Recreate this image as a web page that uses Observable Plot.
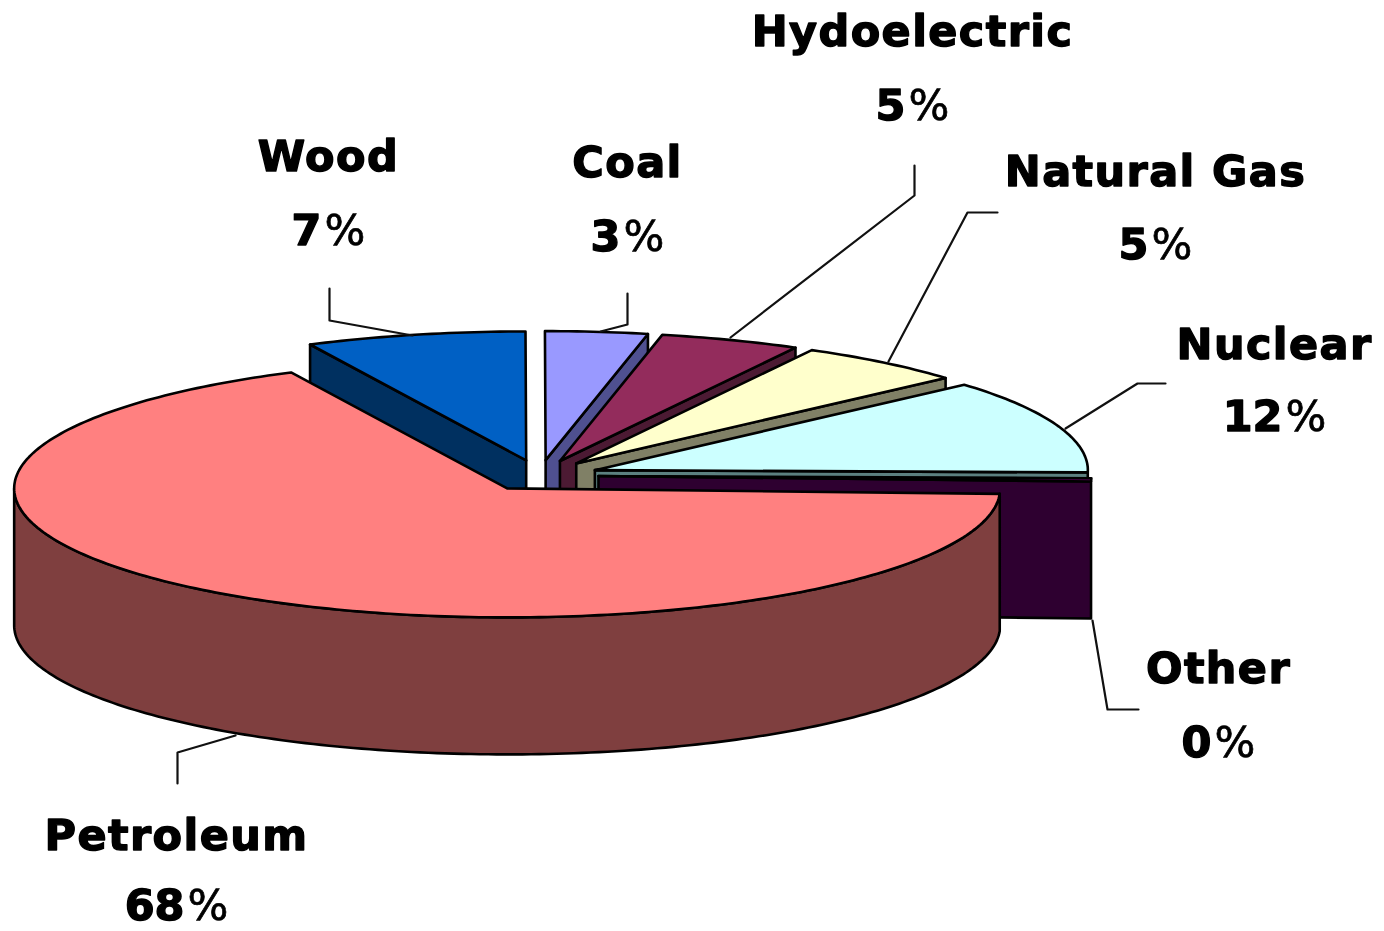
<!DOCTYPE html>
<html><head><meta charset="utf-8">
<script src="https://cdn.jsdelivr.net/npm/d3@7"></script>
<script src="https://cdn.jsdelivr.net/npm/@observablehq/plot@0.6"></script>
<style>html,body{margin:0;background:#fff}svg{display:block;filter:blur(.4px)}</style>
</head><body><div id="chart"></div>
<script>
// Data: clockwise order from the start of the Wood slice
const names  = ["Wood","Coal","Hydoelectric","Natural Gas","Nuclear","Other","Petroleum"];
const shares = [7.2,3.35,4.6,5.55,11.8,0.4,67.1];          // slice sizes
const labels = ["7%","3%","5%","5%","12%","0%","68%"];      // printed percentages
const tops   = ["#0060c4","#9999ff","#932c5c","#ffffcc","#ccffff","#660066","#ff8080"];
const sides  = ["#003060","#4f5090","#4c1a33","#808066","#5c8080","#2e0030","#7f3f3f"];

// Projection of the pie
const W=1384,H=931, cx=539, cy=475, rx=493, ry=129, depth=137, explode=59, startDeg=-26;
const rad=d=>d*Math.PI/180;
let acc=startDeg;
const slices=names.map((name,i)=>{
  const a0=acc, a1=acc+shares[i]*3.6; acc=a1;
  const mid=rad((a0+a1)/2);
  const ax=cx+explode*Math.sin(mid), ay=cy-explode*Math.cos(mid)*ry/rx;
  const rim=d=>[ax+rx*Math.sin(rad(d)), ay-ry*Math.cos(rad(d))];
  return {name,a0,a1,apex:[ax,ay],rim,top:tops[i],side:sides[i]};
});
const arc=(s,d0,d1)=>{const p=[];const n=Math.max(2,Math.ceil(Math.abs(d1-d0)));
  for(let k=0;k<=n;k++)p.push(s.rim(d0+(d1-d0)*k/n));return p;};
const down=p=>[p[0],p[1]+depth];
const close=p=>[...p,p[0]];
const face=(pts,fill,sw=2.6)=>Plot.line(close(pts),{x:d=>d[0],y:d=>d[1],fill,stroke:"#000",strokeWidth:sw,curve:"linear",strokeLinejoin:"round"});

const marks=[];
slices.forEach((s,i)=>{
  const A=s.apex, Ad=down(A);
  if(s.name==="Wood"){
    const S=s.rim(s.a0);
    marks.push(face([A,S,down(S),Ad],s.side));
  } else if(s.name==="Petroleum"){
    marks.push(face([...arc(s,s.a0,270),...arc(s,270,s.a0).map(down)],s.side));
  } else {
    const E=s.rim(s.a1);
    marks.push(face([A,E,down(E),Ad],s.side));
  }
  marks.push(face([A,...arc(s,s.a0,s.a1)],s.top));
});

// Leader lines: anchor elbows between slice rim and label
const leaderElbows=[[[329,320],[329,288]],[[627,324],[627,293]],[[914,195],[914,165]],[[967,212],[997,212]],[[1137,383],[1165,383]],[[1107,709],[1138,709]],[[177,752],[177,783]]];
const leaderStarts=[[412,335],[600,331],[730,337],[888,361],[1065,428],[1092,620],[235,735]];
leaderElbows.forEach((e,i)=>{
  marks.push(Plot.line([leaderStarts[i],...e],{x:d=>d[0],y:d=>d[1],stroke:"#111",strokeWidth:2.2,curve:"linear"}));
});

// Text labels
const labelX=[328,627,912,1155,1274,1218,176];
const nameY=[157,163,32,172,345,669,836];
const pctY=[231,237,106,245,417,743,906];
const textOpts={fontFamily:"'DejaVu Sans',sans-serif",fontWeight:"bold",fontSize:43,fill:"#000",stroke:"#000",strokeWidth:1.4,textAnchor:"middle",lineAnchor:"middle"};
marks.push(Plot.text(names,{...textOpts,x:(d,i)=>labelX[i],y:(d,i)=>nameY[i],text:d=>d,className:"nm"}));
marks.push(Plot.text(labels,{...textOpts,x:(d,i)=>labelX[i],y:(d,i)=>pctY[i],text:d=>d,className:"pct"}));

const chart=Plot.plot({width:W,height:H,margin:0,
  x:{domain:[0,W],range:[0,W],axis:null},
  y:{domain:[0,H],range:[0,H],axis:null},
  style:{background:"#fff"},marks});
document.getElementById("chart").append(chart);
// Letter spacing of the bitmap-like labels, and the thinner percent sign of the reference
d3.select(chart).selectAll(".nm text").style("letter-spacing","1.4px");
d3.select(chart).selectAll(".pct text").each(function(){
  const t=d3.select(this), s=t.text();
  t.text("");
  t.append("tspan").text(s.slice(0,-1));
  t.append("tspan").attr("font-weight","normal").attr("stroke-width",0.7).attr("dx",3).text("%");
});
</script></body></html>
